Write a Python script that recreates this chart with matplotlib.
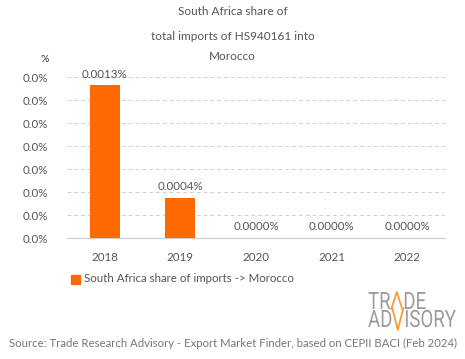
import matplotlib
matplotlib.use("Agg")
import matplotlib.pyplot as plt
from matplotlib.ticker import FuncFormatter, MultipleLocator
from matplotlib.textpath import TextPath
from matplotlib.font_manager import FontProperties
from matplotlib.patches import PathPatch
from matplotlib.lines import Line2D
from matplotlib.transforms import Affine2D, IdentityTransform

years = ["2018", "2019", "2020", "2021", "2022"]
share_pct = [0.00133, 0.00035, 0.0, 0.0, 0.0]
bar_labels = ["0.0013%", "0.0004%", "0.0000%", "0.0000%", "0.0000%"]

plt.rcParams["font.family"] = ["Lato", "DejaVu Sans"]
grey = "#555555"
orange = "#FF6A00"
logo_grey = "#9c9c9c"
logo_orange = "#F5A030"

fig = plt.figure(figsize=(4.65, 3.59), dpi=100)
ax = fig.add_axes([0.144, 0.337, 0.813, 0.4485])

x = range(len(years))
ax.bar(x, share_pct, width=0.4, color=orange, zorder=3)
for i, (v, lab) in enumerate(zip(share_pct, bar_labels)):
    ax.annotate(lab, (i, v), xytext=(0, 4), textcoords="offset points",
                ha="center", va="bottom", fontsize=8.3, color=grey)

ax.set_xlim(-0.5, len(years) - 0.5)
ax.set_ylim(0, 0.0014)
ax.yaxis.set_major_locator(MultipleLocator(0.0002))
ax.yaxis.set_major_formatter(FuncFormatter(lambda v, p: f"{v:.1f}%"))
ax.set_xticks(list(x))
ax.set_xticklabels(years)
ax.tick_params(axis="both", length=0, labelsize=8.3, colors=grey)
ax.tick_params(axis="x", pad=10)
ax.tick_params(axis="y", pad=14)
ax.grid(axis="y", color="#d0d0d0", linestyle=(0, (4, 3)), linewidth=0.7, zorder=0)
for s in ["top", "right", "left"]:
    ax.spines[s].set_visible(False)
ax.spines["bottom"].set_color("#cccccc")

fig.text(0.097, 0.828, "%", fontsize=7.5, color="#333333", ha="center")
fig.text(0.5, 0.967, "South Africa share of", fontsize=8.5, color=grey, ha="center", va="center")
fig.text(0.5, 0.897, "total imports of HS940161 into", fontsize=8.5, color=grey, ha="center", va="center")
fig.text(0.5, 0.843, "Morocco", fontsize=8.5, color=grey, ha="center", va="center")

fig.patches.append(plt.Rectangle((71 / 465, 1 - 284 / 359), 9 / 465, 9 / 359,
                                 transform=fig.transFigure, color=orange))
fig.text(84 / 465, 1 - 279 / 359, "South Africa share of imports -> Morocco",
         fontsize=8.3, color=grey, va="center")

# logo: condensed grey letters, orange chevrons in place of the A / V
logo_fp = FontProperties(family="Roboto")
cap = 17.0
size = cap / 0.711
sx = 0.78


def logo_piece(s, x0, y0):
    tp = TextPath((0, 0), s, size=size, prop=logo_fp)
    tr = Affine2D().scale(sx, 1).translate(x0, y0)
    fig.add_artist(PathPatch(tr.transform_path(tp), facecolor=logo_grey,
                             edgecolor="none", transform=IdentityTransform()))
    return x0 + tp.get_extents().x1 * sx


def chevron(x0, y0, w, up):
    if up:
        xs, ys = [x0, x0 + w / 2, x0 + w], [y0, y0 + cap, y0]
    else:
        xs, ys = [x0, x0 + w / 2, x0 + w], [y0 + cap + 2, y0 - 3, y0 + cap + 2]
    fig.add_artist(Line2D(xs, ys, color=logo_orange, linewidth=1.3,
                          transform=IdentityTransform()))
    return x0 + w


top_base = 359 - 309
bot_base = 359 - 327
xa = logo_piece("TR", 368, top_base)
xa = chevron(xa + 1, top_base, 11, True)
logo_piece("DE", xa + 1, top_base)
xb = logo_piece("AD", 368, bot_base)
xb = chevron(xb + 1, bot_base, 11, False)
logo_piece("ISORY", xb + 1, bot_base)

fig.text(0.5, 1 - 343 / 359,
         "Source: Trade Research Advisory - Export Market Finder, based on CEPII BACI (Feb 2024)",
         fontsize=8.2, color="#777777", ha="center", va="center")

fig.savefig("out.png", dpi=100)
